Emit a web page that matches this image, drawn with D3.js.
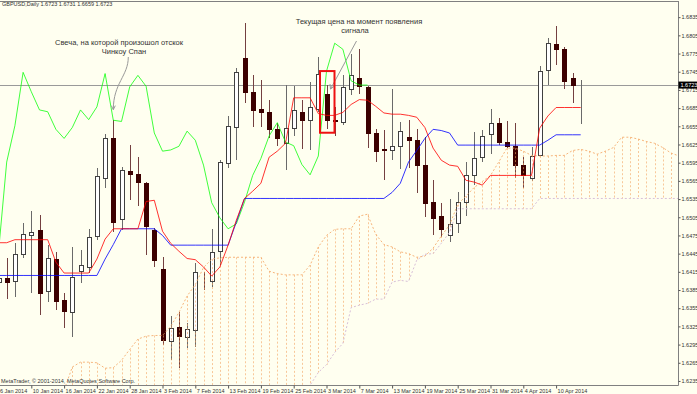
<!DOCTYPE html>
<html>
<head>
<meta charset="utf-8">
<script src="https://cdn.jsdelivr.net/npm/d3@7"></script>
<style>
  body { margin: 0; background: #fffff0; }
  svg { display: block; font-family: "Liberation Sans", Arial, sans-serif; }
</style>
</head>
<body>
<svg id="chart" width="697" height="394"></svg>
<script>
// trading days shown on the chart (GBPUSD, Daily)
var dates = [
  "2014-01-06","2014-01-07","2014-01-08","2014-01-09","2014-01-10","2014-01-13","2014-01-14","2014-01-15","2014-01-16","2014-01-17",
  "2014-01-20","2014-01-21","2014-01-22","2014-01-23","2014-01-24","2014-01-27","2014-01-28","2014-01-29","2014-01-30","2014-01-31",
  "2014-02-03","2014-02-04","2014-02-05","2014-02-06","2014-02-07","2014-02-10","2014-02-11","2014-02-12","2014-02-13","2014-02-14",
  "2014-02-17","2014-02-18","2014-02-19","2014-02-20","2014-02-21","2014-02-24","2014-02-25","2014-02-26","2014-02-27","2014-02-28",
  "2014-03-03","2014-03-04","2014-03-05","2014-03-06","2014-03-07","2014-03-10","2014-03-11","2014-03-12","2014-03-13","2014-03-14",
  "2014-03-17","2014-03-18","2014-03-19","2014-03-20","2014-03-21","2014-03-24","2014-03-25","2014-03-26","2014-03-27","2014-03-28",
  "2014-03-31","2014-04-01","2014-04-02","2014-04-03","2014-04-04","2014-04-07","2014-04-08","2014-04-09","2014-04-10","2014-04-11",
  "2014-04-14","2014-04-15"
];

var open = [1.6398,1.6404,1.6400,1.6445,1.6476,1.6484,1.6383,1.6436,1.6369,1.6349,
  1.6416,1.6423,1.6474,1.6570,1.6636,1.6502,1.6581,1.6576,1.6562,1.6484,
  1.6420,1.6301,1.6324,1.6307,1.6319,1.6399,1.6400,1.6449,1.6594,1.6654,
  1.6767,1.6712,1.6683,1.6678,1.6650,1.6627,1.6653,1.6679,1.6666,1.6683,
  1.6709,1.6665,1.6662,1.6716,1.6735,1.6720,1.6644,1.6617,1.6616,1.6622,
  1.6638,1.6633,1.6592,1.6530,1.6507,1.6475,1.6495,1.6530,1.6575,1.6605,
  1.6643,1.6661,1.6629,1.6623,1.6591,1.6570,1.6607,1.6748,1.6790,1.6782,
  1.6735,1.6723];
var high = [1.6411,1.6437,1.6463,1.6496,1.6515,1.6508,1.6459,1.6447,1.6380,1.6456,
  1.6451,1.6486,1.6587,1.6642,1.6666,1.6588,1.6624,1.6604,1.6563,1.6487,
  1.6439,1.6342,1.6349,1.6330,1.6429,1.6414,1.6486,1.6599,1.6672,1.6751,
  1.6825,1.6739,1.6732,1.6698,1.6661,1.6723,1.6721,1.6698,1.6728,1.6769,
  1.6723,1.6687,1.6739,1.6775,1.6783,1.6721,1.6651,1.6649,1.6716,1.6662,
  1.6665,1.6651,1.6637,1.6566,1.6528,1.6535,1.6547,1.6596,1.6645,1.6649,
  1.6683,1.6668,1.6663,1.6661,1.6604,1.6621,1.6754,1.6800,1.6820,1.6786,
  1.6743,1.6731];
var low = [1.6391,1.6371,1.6373,1.6438,1.6380,1.6343,1.6365,1.6352,1.6323,1.6307,
  1.6397,1.6413,1.6467,1.6553,1.6481,1.6484,1.6533,1.6524,1.6442,1.6423,
  1.6294,1.6269,1.6257,1.6289,1.6291,1.6385,1.6390,1.6427,1.6586,1.6599,
  1.6693,1.6654,1.6654,1.6635,1.6622,1.6583,1.6639,1.6618,1.6616,1.6678,
  1.6651,1.6639,1.6657,1.6706,1.6709,1.6620,1.6596,1.6566,1.6599,1.6585,
  1.6586,1.6545,1.6506,1.6476,1.6473,1.6464,1.6479,1.6507,1.6559,1.6596,
  1.6609,1.6624,1.6619,1.6569,1.6554,1.6564,1.6606,1.6723,1.6756,1.6716,
  1.6694,1.6659];
var close = [1.6404,1.6398,1.6445,1.6478,1.6481,1.6380,1.6437,1.6367,1.6350,1.6406,
  1.6426,1.6472,1.6573,1.6635,1.6497,1.6583,1.6577,1.6563,1.6490,1.6435,
  1.6302,1.6323,1.6309,1.6320,1.6415,1.6398,1.6448,1.6596,1.6656,1.6744,
  1.6712,1.6682,1.6679,1.6650,1.6635,1.6653,1.6682,1.6666,1.6687,1.6742,
  1.6665,1.6663,1.6720,1.6739,1.6721,1.6644,1.6614,1.6616,1.6622,1.6647,
  1.6632,1.6591,1.6529,1.6504,1.6486,1.6494,1.6530,1.6574,1.6602,1.6639,
  1.6661,1.6629,1.6623,1.6592,1.6575,1.6606,1.6746,1.6792,1.6782,1.6730,
  1.6723,1.6723];

// Ichimoku lines
var tenkan = [1.6463,1.6463,1.6468,1.6468,1.6468,1.6468,1.6468,1.6431,1.6413,1.6413,
  1.6413,1.6413,1.6436,1.6469,1.6486,1.6486,1.6486,1.6486,1.6531,1.6533,
  1.6482,1.6462,1.6449,1.6437,1.6435,1.6423,1.6408,1.6423,1.6459,1.6500,
  1.6536,1.6548,1.6561,1.6604,1.6614,1.6627,1.6702,1.6702,1.6702,1.6676,
  1.6673,1.6673,1.6678,1.6691,1.6699,1.6698,1.6688,1.6677,1.6675,1.6675,
  1.6673,1.6670,1.6653,1.6619,1.6599,1.6591,1.6589,1.6566,1.6563,1.6558,
  1.6574,1.6574,1.6574,1.6574,1.6574,1.6574,1.6652,1.6672,1.6686,1.6686,
  1.6686,1.6686];
var kijun = [1.6409,1.6409,1.6409,1.6409,1.6409,1.6409,1.6409,1.6409,1.6409,1.6409,
  1.6409,1.6409,1.6409,1.6436,1.6460,1.6486,1.6486,1.6486,1.6486,1.6486,
  1.6475,1.6459,1.6459,1.6459,1.6459,1.6459,1.6459,1.6459,1.6459,1.6497,
  1.6536,1.6536,1.6536,1.6536,1.6536,1.6536,1.6536,1.6536,1.6536,1.6536,
  1.6536,1.6536,1.6536,1.6536,1.6536,1.6536,1.6536,1.6536,1.6546,1.6561,
  1.6596,1.6615,1.6635,1.6650,1.6648,1.6644,1.6624,1.6624,1.6624,1.6624,
  1.6624,1.6624,1.6624,1.6624,1.6624,1.6624,1.6624,1.6632,1.6641,1.6641,
  1.6641,1.6641];
var chikou = [1.6448,1.6596,1.6656,1.6744,1.6712,1.6682,1.6679,1.6650,1.6635,1.6653,
  1.6682,1.6666,1.6687,1.6742,1.6665,1.6663,1.6720,1.6739,1.6721,1.6644,
  1.6614,1.6616,1.6622,1.6647,1.6632,1.6591,1.6529,1.6504,1.6486,1.6494,
  1.6530,1.6574,1.6602,1.6639,1.6661,1.6629,1.6623,1.6592,1.6575,1.6606,
  1.6746,1.6792,1.6782,1.6730,1.6723,1.6723];
var spanA = [1.6210,1.6210,1.6210,1.6210,1.6210,1.6210,1.6210,1.6210,1.6220,1.6258,
  1.6266,1.6266,1.6265,1.6256,1.6257,1.6269,1.6287,1.6304,1.6309,1.6310,
  1.6310,1.6325,1.6348,1.6375,1.6394,1.6422,1.6436,1.6438,1.6439,1.6439,
  1.6439,1.6439,1.6439,1.6416,1.6412,1.6410,1.6410,1.6410,1.6426,1.6456,
  1.6475,1.6485,1.6486,1.6486,1.6507,1.6510,1.6477,1.6460,1.6456,1.6448,
  1.6445,1.6439,1.6441,1.6454,1.6474,1.6492,1.6526,1.6540,1.6554,1.6564,
  1.6574,1.6596,1.6619,1.6619,1.6614,1.6607,1.6606,1.6606,1.6607,1.6607,
  1.6615,1.6617,1.6614,1.6609,1.6614,1.6620,1.6637,1.6637,1.6634,1.6630,
  1.6627,1.6620,1.6611,1.6606];
var spanB = [1.6200,1.6200,1.6200,1.6200,1.6200,1.6200,1.6200,1.6200,1.6200,1.6200,
  1.6200,1.6200,1.6200,1.6200,1.6200,1.6200,1.6200,1.6200,1.6200,1.6200,
  1.6200,1.6200,1.6200,1.6200,1.6200,1.6200,1.6200,1.6200,1.6200,1.6200,
  1.6200,1.6200,1.6200,1.6200,1.6200,1.6200,1.6200,1.6212,1.6228,1.6249,
  1.6262,1.6282,1.6297,1.6356,1.6360,1.6363,1.6370,1.6370,1.6398,1.6401,
  1.6399,1.6434,1.6444,1.6445,1.6462,1.6480,1.6519,1.6519,1.6519,1.6519,
  1.6519,1.6519,1.6519,1.6519,1.6519,1.6519,1.6536,1.6536,1.6536,1.6536,
  1.6536,1.6536,1.6536,1.6536,1.6536,1.6536,1.6536,1.6536,1.6536,1.6536,
  1.6536,1.6536,1.6536,1.6536];

var priceTicks = [1.6835,1.6805,1.6775,1.6745,1.6715,1.6685,1.6655,1.6625,1.6595,1.6565,
  1.6535,1.6505,1.6475,1.6445,1.6415,1.6385,1.6355,1.6325,1.6295,1.6265,1.6235];
var lastPrice = 1.6723;

var svg = d3.select("#chart");
var plotW = 678, plotTop = 1, plotBottom = 385;

var x = d3.scaleLinear().domain([0, dates.length - 1]).range([-1.5, 580.7]);
var y = d3.scaleLinear().domain([1.6230, 1.6860]).range([384, 2]);
var px = function(i) { return Math.round(x(i)) + 0.5; };
var py = function(v) { return Math.round(y(v)) + 0.5; };

svg.append("rect").attr("width", 697).attr("height", 394).attr("fill", "#fffff0");

svg.append("clipPath").attr("id", "clip")
  .append("rect").attr("x", 0).attr("y", plotTop).attr("width", plotW).attr("height", plotBottom - plotTop);

var plot = svg.append("g").attr("clip-path", "url(#clip)");

// current price line
plot.append("line")
  .attr("x1", 0).attr("x2", plotW)
  .attr("y1", py(lastPrice)).attr("y2", py(lastPrice))
  .attr("stroke", "#9a9a9a");

// candles
var idx = d3.range(dates.length);
var candles = plot.append("g");
candles.selectAll("line.wick").data(idx).enter().append("line")
  .attr("class", "wick")
  .attr("x1", px).attr("x2", px)
  .attr("y1", function(i) { return Math.round(y(high[i])); })
  .attr("y2", function(i) { return Math.round(y(low[i])); })
  .attr("stroke", function(i) { return close[i] >= open[i] ? "#6a6a6a" : "#744040"; });

candles.selectAll("rect.body").data(idx).enter().append("rect")
  .attr("class", "body")
  .attr("x", function(i) { return px(i) - 2; })
  .attr("width", 4)
  .attr("y", function(i) { return py(Math.max(open[i], close[i])); })
  .attr("height", function(i) {
    return Math.max(0, Math.round(y(Math.min(open[i], close[i]))) - Math.round(y(Math.max(open[i], close[i]))));
  })
  .attr("fill", function(i) { return close[i] >= open[i] ? "#ffffff" : "#3c0000"; })
  .attr("stroke", function(i) { return close[i] >= open[i] ? "#404040" : "#3c0000"; });

// cloud (Senkou span A / B) hatch
var cloudIdx = d3.range(spanA.length);
plot.append("g").selectAll("line").data(cloudIdx).enter().append("line")
  .attr("x1", px).attr("x2", px)
  .attr("y1", function(i) { return y(spanA[i]); })
  .attr("y2", function(i) { return y(spanB[i]); })
  .attr("stroke", function(i) { return spanA[i] >= spanB[i] ? "#f4a460" : "#d8bfd8"; })
  .attr("stroke-dasharray", "2,2")
  .attr("opacity", 0.6);

var line = d3.line().x(function(d, i) { return x(i); }).y(function(d) { return y(d); });

plot.append("path").attr("d", line(spanA))
  .attr("fill", "none").attr("stroke", "#f4a460").attr("stroke-dasharray", "2,2").attr("opacity", 0.8);
plot.append("path").attr("d", line(spanB))
  .attr("fill", "none").attr("stroke", "#d8bfd8").attr("stroke-dasharray", "2,2");

plot.append("path").attr("d", line(chikou)).attr("fill", "none").attr("stroke", "#00ff00").attr("opacity", 0.75);
plot.append("path").attr("d", line(kijun)).attr("fill", "none").attr("stroke", "#0000ff").attr("opacity", 0.8);
plot.append("path").attr("d", line(tenkan)).attr("fill", "none").attr("stroke", "#ff0000").attr("opacity", 0.8);

// annotations
var note = svg.append("g").attr("fill", "#333").style("font-size", "7.5px");
note.append("text").attr("x", 119).attr("y", 45).attr("text-anchor", "middle")
  .text("Свеча, на которой произошол отскок");
note.append("text").attr("x", 124).attr("y", 54).attr("text-anchor", "middle")
  .text("Чинкоу Спан");
note.append("text").attr("x", 359).attr("y", 23.5).attr("text-anchor", "middle")
  .text("Текущая цена на момент появления");
note.append("text").attr("x", 355).attr("y", 32.5).attr("text-anchor", "middle")
  .text("сигнала");

// arrow to the candle where Chikou bounced
var bx = x(14), by = y(high[14]) - 10;
var p1 = d3.path();
p1.moveTo(bx + 15, 57);
p1.bezierCurveTo(bx + 15, 76, bx, 83, bx, by);
p1.moveTo(bx - 2, by - 4); p1.lineTo(bx, by); p1.lineTo(bx + 2, by - 4);
svg.append("path").attr("d", p1.toString()).attr("fill", "none").attr("stroke", "#999");

// arrow to the signal price
var sx = x(40) + 4, sy = y(high[40]) + 4;
var p2 = d3.path();
p2.moveTo(sx + 26, 41);
p2.lineTo(sx, sy);
p2.moveTo(sx - 0.5, sy - 5); p2.lineTo(sx, sy); p2.lineTo(sx + 4, sy - 3);
svg.append("path").attr("d", p2.toString()).attr("fill", "none").attr("stroke", "#999");

// red frame round the signal candle
svg.append("rect")
  .attr("x", x(40) - 6.5).attr("width", 14.5)
  .attr("y", y(high[40]) - 14).attr("height", y(low[40]) - y(high[40]) + 18)
  .attr("fill", "none").attr("stroke", "#ee1111").attr("stroke-width", 2);

// borders
svg.append("line").attr("x1", 0).attr("x2", plotW + 0.5).attr("y1", 1.5).attr("y2", 1.5).attr("stroke", "#808080");
svg.append("line").attr("x1", plotW + 0.5).attr("x2", plotW + 0.5).attr("y1", 1).attr("y2", plotBottom + 0.5).attr("stroke", "#808080");
svg.append("line").attr("x1", 0).attr("x2", plotW + 0.5).attr("y1", plotBottom + 0.5).attr("y2", plotBottom + 0.5).attr("stroke", "#808080");

// price axis
var yAxis = d3.axisRight(y).tickValues(priceTicks).tickFormat(d3.format(".4f")).tickSize(2).tickPadding(1);
var gy = svg.append("g").attr("transform", "translate(" + (plotW + 0.5) + ",0)").call(yAxis);
gy.select(".domain").remove();
gy.selectAll("line").attr("stroke", "#555");
gy.selectAll("text").attr("fill", "#333").style("font-size", "5.5px").style("font-family", "Liberation Sans, Arial, sans-serif");

// current price tag
svg.append("rect").attr("x", plotW + 0.5).attr("y", y(lastPrice) - 3.5).attr("width", 19).attr("height", 7).attr("fill", "#000");
svg.append("text").attr("x", plotW + 2.5).attr("y", y(lastPrice) + 2)
  .attr("fill", "#fff").style("font-size", "5.5px").text(d3.format(".4f")(lastPrice));

// date axis
var parse = d3.timeParse("%Y-%m-%d");
var fmt = d3.timeFormat("%-d %b %Y");
var dateTicks = idx.filter(function(i) { return i % 4 === 0; });
var xAxis = d3.axisBottom(x).tickValues(dateTicks)
  .tickFormat(function(i) { return fmt(parse(dates[i])); }).tickSize(3).tickPadding(1);
var gx = svg.append("g").attr("transform", "translate(0," + (plotBottom + 0.5) + ")").call(xAxis);
gx.select(".domain").remove();
gx.selectAll("line").attr("stroke", "#555");
gx.selectAll("text").attr("fill", "#333").attr("text-anchor", "start").attr("x", 1)
  .style("font-size", "5.5px").style("font-family", "Liberation Sans, Arial, sans-serif");

// header and copyright
svg.append("text").attr("x", 2).attr("y", 6).attr("fill", "#333").style("font-size", "5.5px")
  .text("GBPUSD,Daily  " + [open[71], high[71], low[71], close[71]].map(d3.format(".4f")).join(" "));
svg.append("text").attr("x", 1).attr("y", 382.5).attr("fill", "#333").style("font-size", "5.5px")
  .text("MetaTrader, © 2001-2014, MetaQuotes Software Corp.");
</script>
</body>
</html>
